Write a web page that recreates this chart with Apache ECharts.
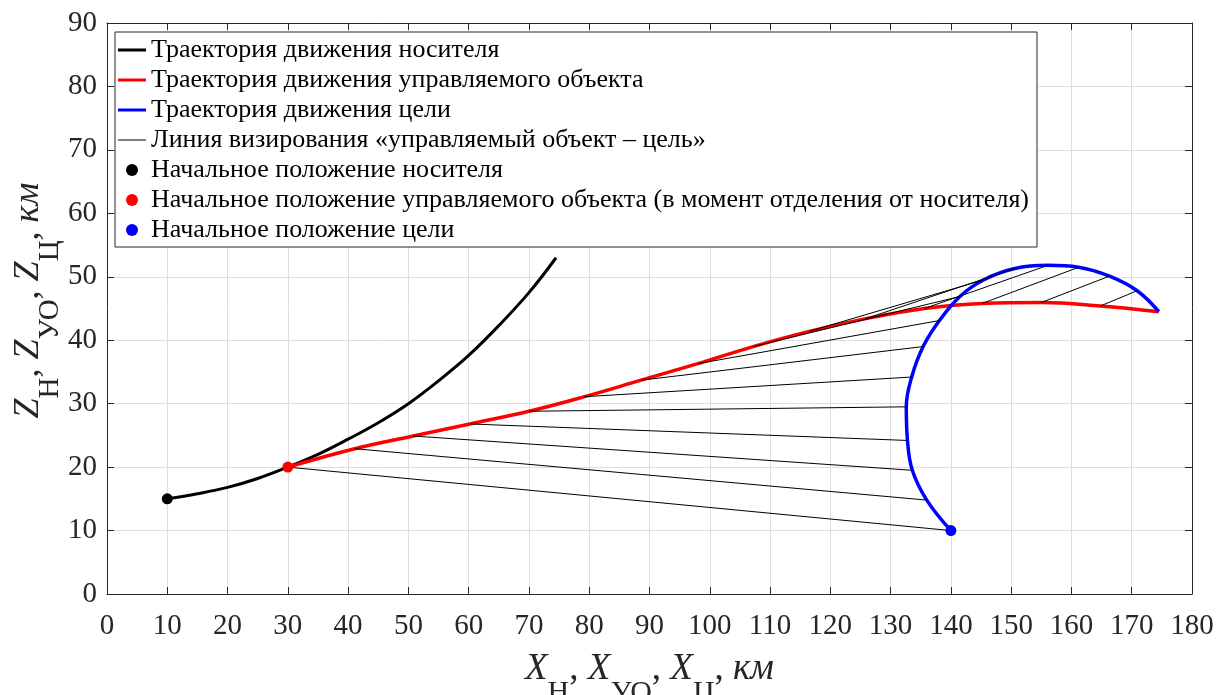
<!DOCTYPE html>
<html>
<head>
<meta charset="utf-8">
<script src="https://cdn.jsdelivr.net/npm/echarts@6/dist/echarts.min.js"></script>
<style>
html,body{margin:0;padding:0;background:#fff;}
#chart{width:1218px;height:695px;}
</style>
</head>
<body>
<div id="chart"></div>
<script>
// ---- data (km) ----
const carrierX = [10, 15, 20, 25, 30, 35, 40, 45, 50, 55, 60, 65, 70, 74.5];
const carrierY = [15, 15.8, 16.8, 18.2, 20, 22, 24.4, 27, 30, 33.6, 37.6, 42.3, 47.5, 53];

const objectX = [30, 41.1, 50.8, 60.2, 70, 79.2, 88.6, 98, 107.2, 116.5, 125.9, 135.6, 145.2, 155, 164.8, 174.5];
const objectY = [20, 22.9, 24.9, 26.8, 28.8, 31.1, 33.7, 36.3, 39, 41.4, 43.4, 45, 45.8, 45.95, 45.4, 44.5];

const targetX = [140, 136, 133.6, 132.8, 132.6, 133.5, 135.4, 138.1, 141.5, 145.4, 150.6, 156.1, 161.2, 166.3, 170.9, 174.5];
const targetY = [10, 14.8, 19.5, 24.2, 29.5, 34.2, 39, 43.1, 46.9, 49.5, 51.3, 51.8, 51.5, 50.1, 47.8, 44.5];

const xTicks = [0, 180, 10];
const yTicks = [0, 90, 10];

const names = [
  'Траектория движения носителя',
  'Траектория движения управляемого объекта',
  'Траектория движения цели',
  'Линия визирования «управляемый объект – цель»',
  'Начальное положение носителя',
  'Начальное положение управляемого объекта (в момент отделения от носителя)',
  'Начальное положение цели'
];
const xTitle = '{i|X}{s|Н}{n|, }{i|X}{s|УО}{n|, }{i|X}{s|Ц}{n|, }{i|км}';
const yTitle = '{i|Z}{s|Н}{n|, }{i|Z}{s|УО}{n|, }{i|Z}{s|Ц}{n|, }{i|км}';

// ---- build ----
const FONT = 'Liberation Serif';
const AX = '#262626';
const zip = (xs, ys) => xs.map((x, i) => [x, ys[i]]);
const rich = {
  i: {fontFamily: FONT, fontStyle: 'italic', fontSize: 37, lineHeight: 40, verticalAlign: 'top', color: AX},
  n: {fontFamily: FONT, fontSize: 37, lineHeight: 40, verticalAlign: 'top', color: AX},
  s: {fontFamily: FONT, fontSize: 30, lineHeight: 84, verticalAlign: 'middle', color: AX}
};
const yRich = {
  i: {fontFamily: FONT, fontStyle: 'italic', fontSize: 36, lineHeight: 40, verticalAlign: 'top', color: AX},
  n: {fontFamily: FONT, fontSize: 36, lineHeight: 40, verticalAlign: 'top', color: AX},
  s: {fontFamily: FONT, fontSize: 29, lineHeight: 78, verticalAlign: 'middle', color: AX}
};
const lineIcon = t => 'path://M0,0M28,12M0,' + (6 - t / 2) + 'L28,' + (6 - t / 2) + 'L28,' + (6 + t / 2) + 'L0,' + (6 + t / 2) + 'Z';

function mkX(pos, main) {
  return {
    type: 'value', position: pos, min: xTicks[0], max: xTicks[1], interval: xTicks[2],
    axisLine: {show: true, onZero: false, lineStyle: {color: AX, width: 1}},
    axisTick: {show: true, inside: true, length: 7, lineStyle: {color: AX}},
    axisLabel: {show: main, margin: 18, fontFamily: FONT, fontSize: 29, color: AX},
    splitLine: {show: main, lineStyle: {color: '#dedede', width: 1}},
    name: main ? xTitle : '', nameLocation: 'middle', nameGap: 57, nameMoveOverlap: false,
    nameTextStyle: {rich: rich}
  };
}
function mkY(pos, main) {
  return {
    type: 'value', position: pos, min: yTicks[0], max: yTicks[1], interval: yTicks[2],
    axisLine: {show: true, onZero: false, lineStyle: {color: AX, width: 1}},
    axisTick: {show: true, inside: true, length: 7, lineStyle: {color: AX}},
    axisLabel: {show: main, margin: 10, fontFamily: FONT, fontSize: 29, color: AX},
    splitLine: {show: main, lineStyle: {color: '#dedede', width: 1}},
    name: main ? yTitle : '', nameLocation: 'middle', nameGap: 18, nameRotate: 90, nameMoveOverlap: false,
    nameTextStyle: {rich: yRich, padding: [0, 0, 0, 16]}
  };
}

const series = [];
series.push({name: names[0], type: 'line', data: zip(carrierX, carrierY), smooth: 0.4, showSymbol: false, symbol: 'none',
  lineStyle: {color: '#000', width: 3}, itemStyle: {color: '#000'}, z: 3});
series.push({name: names[1], type: 'line', data: zip(objectX, objectY), smooth: 0.4, showSymbol: false, symbol: 'none',
  lineStyle: {color: '#ff0000', width: 3.5}, itemStyle: {color: '#ff0000'}, z: 3});
series.push({name: names[2], type: 'line', data: zip(targetX, targetY), smooth: 0.4, showSymbol: false, symbol: 'none',
  lineStyle: {color: '#0000ff', width: 3.5}, itemStyle: {color: '#0000ff'}, z: 3});
for (let i = 0; i < objectX.length; i++) {
  series.push({name: names[3], type: 'line', data: [[objectX[i], objectY[i]], [targetX[i], targetY[i]]],
    showSymbol: false, symbol: 'none', lineStyle: {color: '#000', width: 1}, itemStyle: {color: '#000'}, z: 4});
}
series.push({name: names[4], type: 'scatter', data: [[carrierX[0], carrierY[0]]], symbolSize: 11, itemStyle: {color: '#000', opacity: 1}, z: 5});
series.push({name: names[5], type: 'scatter', data: [[objectX[0], objectY[0]]], symbolSize: 11, itemStyle: {color: '#ff0000', opacity: 1}, z: 5});
series.push({name: names[6], type: 'scatter', data: [[targetX[0], targetY[0]]], symbolSize: 11, itemStyle: {color: '#0000ff', opacity: 1}, z: 5});

const chart = echarts.init(document.getElementById('chart'), null, {renderer: 'canvas'});
chart.setOption({
  backgroundColor: '#fff',
  animation: false,
  grid: {left: 107, right: 26, top: 23, bottom: 101, containLabel: false, outerBoundsMode: 'none'},
  xAxis: [mkX('bottom', true), mkX('top', false)],
  yAxis: [mkY('left', true), mkY('right', false)],
  legend: {
    orient: 'vertical', left: 115, top: 32,
    backgroundColor: '#fff', borderColor: AX, borderWidth: 1, borderRadius: 0,
    padding: [5, 8, 4, 3], itemGap: 4, itemWidth: 28, itemHeight: 12,
    textStyle: {fontFamily: FONT, fontSize: 26, lineHeight: 24, color: '#000'},
    selectedMode: false,
    data: [
      {name: names[0], icon: lineIcon(3)},
      {name: names[1], icon: lineIcon(3)},
      {name: names[2], icon: lineIcon(3)},
      {name: names[3], icon: lineIcon(1)},
      {name: names[4]},
      {name: names[5]},
      {name: names[6]}
    ]
  },
  series: series
});
</script>
</body>
</html>
